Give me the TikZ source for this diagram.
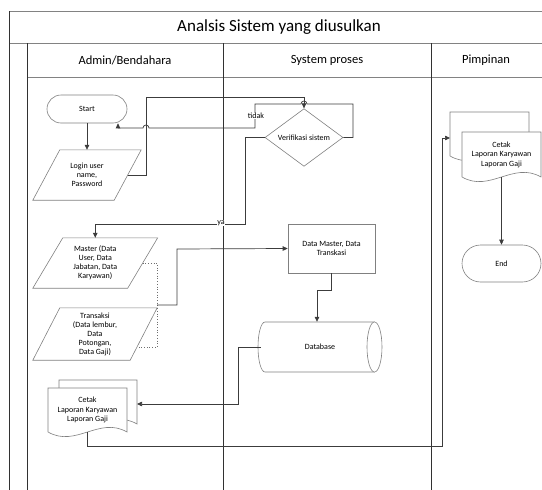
\documentclass[tikz,border=0pt]{standalone}
\usepackage{fontspec}
\setmainfont{Carlito}
\usetikzlibrary{shapes.geometric,shapes.misc,arrows.meta,calc}

% outline of a data (parallelogram) shape round a node: #1 node, #2 slant
\newcommand{\iobox}[2]{%
  \draw[shapeline] ($(#1.north west)+(#2,0)$) -- ($(#1.north east)+(#2,0)$) -- ($(#1.south east)-(#2,0)$) -- ($(#1.south west)-(#2,0)$) -- cycle;}
% document sheet with wavy bottom: #1 x, #2 y (top left), #3 width, #4 side height
\newcommand{\docsheet}[4]{%
  \draw[shapeline, fill=white] (#1,#2) -- ++(#3,0) -- ++(0,#4) .. controls +(-0.35*#3,-16) and +(0.35*#3,16) .. ++(-#3,0) -- cycle;}

\tikzset{
  laneline/.style={draw={rgb, 255:red, 50; green, 50; blue, 50}, line width=0.7pt},
  rowline/.style={draw={rgb, 255:red, 130; green, 130; blue, 130}, line width=0.8pt},
  shapeline/.style={draw={rgb, 255:red, 128; green, 128; blue, 128}, line width=0.6pt},
  conn/.style={draw={rgb, 255:red, 60; green, 60; blue, 60}, line width=0.7pt},
  arr/.style={conn, -{Triangle[length=5pt,width=4.5pt]}},
  dotline/.style={draw={rgb, 255:red, 110; green, 110; blue, 110}, line width=0.7pt, dotted},
  txt/.style={font=\fontsize{8}{9}\selectfont, align=center, inner sep=0pt},
  lbl/.style={font=\fontsize{8}{9}\selectfont, inner sep=0.6pt, fill=white},
  term/.style={rounded rectangle, shapeline, fill=white, txt},
  iotext/.style={txt, minimum height=50pt},
  head/.style={font=\fontsize{12.5}{14}\selectfont, inner sep=0pt},
}

\begin{document}
\begin{tikzpicture}[x=1pt,y=1pt,yscale=-1,xscale=1]
\useasboundingbox (0,0) rectangle (542,490);

%Swimlane frame
\draw[rowline] (9,11) -- (545,11) ;
\draw[rowline] (9,43) -- (545,43) ;
\draw[rowline] (27,77) -- (545,77) ;
\draw[laneline] (9,11) -- (9,490) ;
\draw[laneline] (27,43) -- (27,490) ;
\draw[laneline] (223,43) -- (223,490) ;
\draw[laneline] (431,43) -- (431,490) ;

% Text Node
\node[font=\fontsize{17}{19}\selectfont, inner sep=0pt] (title) at (279,27) {Analsis Sistem yang diusulkan};
\node[head] (laneA) at (125,60) {Admin/Bendahara};
\node[head] (laneB) at (327,60) {System proses};
\node[head] (laneC) at (486,60) {Pimpinan};

%Shape: Terminator
\node[term, minimum width=80pt, minimum height=28pt] (start) at (87,109) {Start};
\node[term, minimum width=79pt, minimum height=37pt] (finish) at (501.5,263.5) {End};

%Shape: Data
\node[iotext, minimum width=81pt] (login) at (87,175) {Login user\\name,\\Password};
\iobox{login}{13.5}
\node[iotext, minimum width=94.5pt] (master) at (95.25,263) {Master (Data\\User, Data\\Jabatan, Data\\Karyawan)};
\iobox{master}{15}
\node[iotext, minimum width=97pt, minimum height=52pt] (trans) at (95,334) {Transaksi\\(Data lembur,\\Data\\Potongan,\\Data Gaji)};
\iobox{trans}{13.5}

%Shape: Decision
\node[diamond, shapeline, fill=white, txt, minimum width=78pt, minimum height=49pt] (ver) at (304,137.5) {Verifikasi sistem};

%Shape: Process
\node[rectangle, shapeline, fill=white, txt, minimum width=87pt, minimum height=49pt] (dm) at (331.5,248.5) {Data Master, Data\\Transkasi};

%Shape: Database (horizontal drum)
\draw[shapeline, fill=white] (265,322) -- (374.5,322) -- (374.5,372) -- (265,372) arc[start angle=90, end angle=270, x radius=7, y radius=25] -- cycle ;
\draw[shapeline, fill=white] (374.5,347) ellipse [x radius=7.5, y radius=25] ;
\node[txt, minimum width=124pt, minimum height=50pt] (db) at (320,347) {Database};

%Shape: Multi document (Admin)
\docsheet{59}{380}{78}{44}
\docsheet{48}{388}{79}{44}
\node[txt, font=\fontsize{8}{9.5}\selectfont, minimum width=79pt, minimum height=44pt] (cetakA) at (87.5,410) {Cetak\\Laporan Karyawan\\Laporan Gaji};
\coordinate (cetakAback) at (137,404);

%Shape: Multi document (Pimpinan)
\docsheet{450}{112}{79}{44}
\docsheet{462}{132}{79}{45}
\node[txt, font=\fontsize{8}{9.5}\selectfont, minimum width=79pt, minimum height=45pt] (cetakB) at (501.5,154.5) {Cetak\\Laporan Karyawan\\Laporan Gaji};
\coordinate (cetakBback) at (450,138);

% Connection
\draw[arr] (start.south) -- (login.north) ;
% Connection
\draw[arr] (login.east) -| (146,97) -| (ver.north) ;
% Connection (tidak)
\draw[arr] (ver.east) -| (353,104) -- (307,104) arc[start angle=0, end angle=-180, radius=3] -- (255,104) |- (149,128) arc[start angle=0, end angle=-180, radius=3] -- (118,128) -- ($(start.south)+(31,0)$) ;
\node[lbl] (tidaklbl) at (256,116) {tidak};
% Connection (ya)
\draw[arr] (ver.west) -| (245,224) -| (master.north) ;
\node[lbl] (yalbl) at (221,223) {ya};
% Connection
\coordinate (transR) at (137,347);
\coordinate (join) at (157,305);
\draw[dotline] (master.east) -| (157,347) -- (transR) ;
\draw[arr] (join) -| (177,249) -- (dm.west) ;
% Connection
\draw[arr] (dm.south) |- (317,290) -- ($(db.north)+(-3,0)$) ;
% Connection
\draw[arr] ($(db.west)+(3,0)$) -| (238,404) -- (cetakAback) ;
% Connection
\draw[arr] (cetakA.south) |- (442,446) |- (cetakBback) ;
% Connection
\draw[arr] (cetakB.south) -- (finish.north) ;

\end{tikzpicture}
\end{document}
